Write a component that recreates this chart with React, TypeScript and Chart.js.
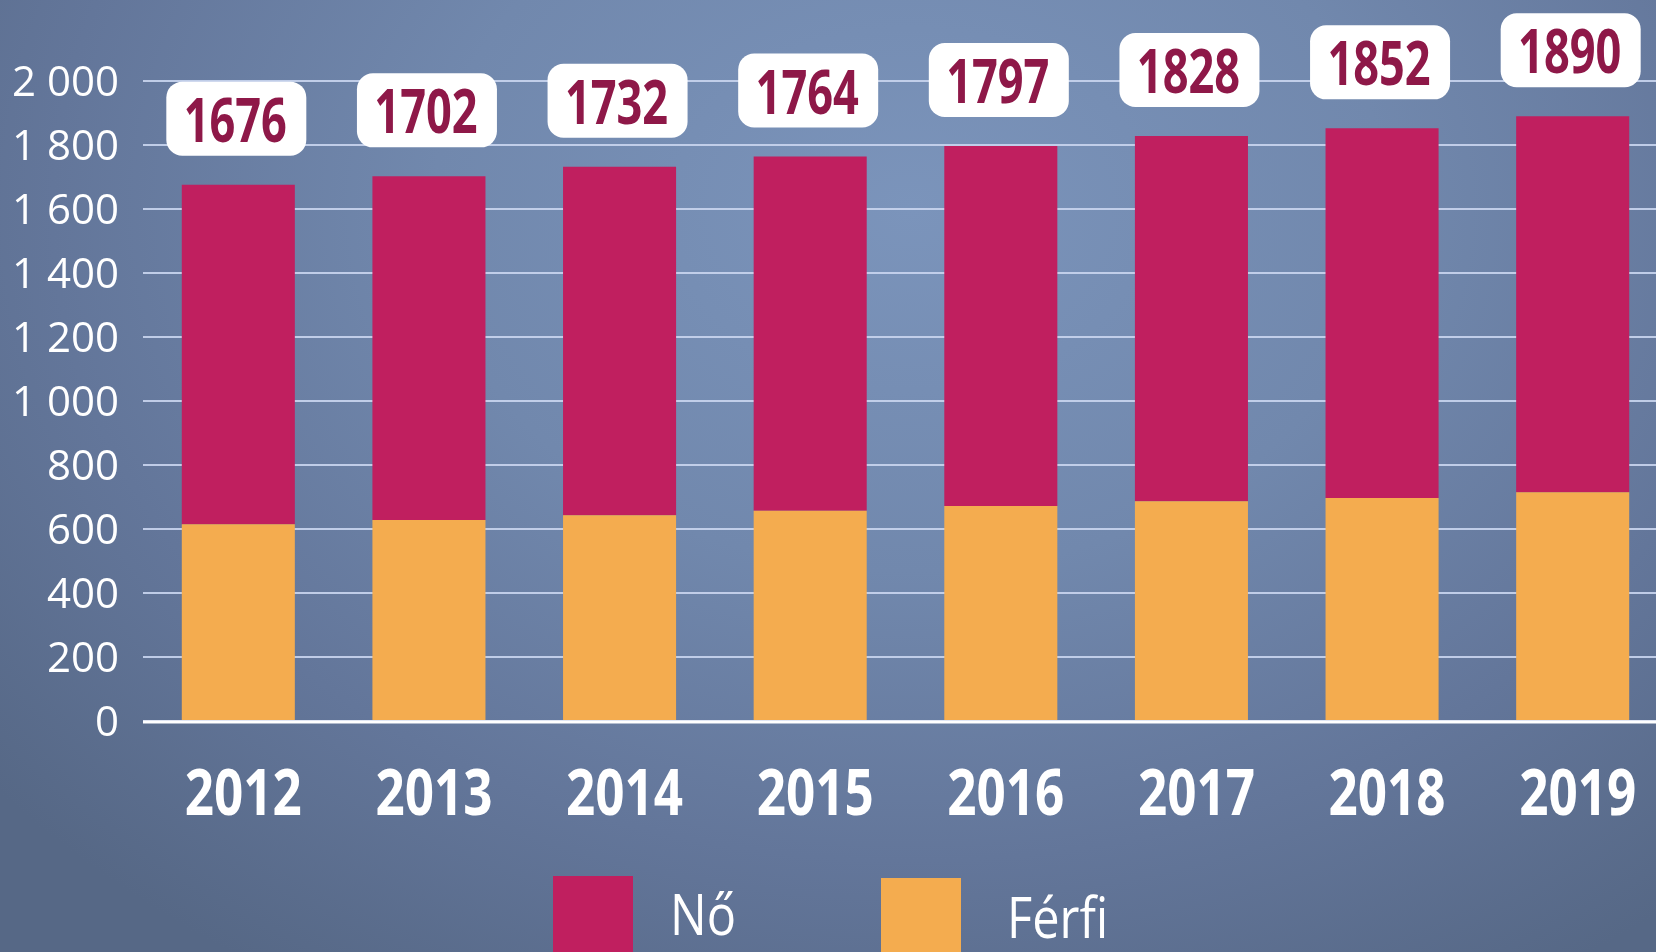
import React, { useEffect, useRef } from "react";
import { Chart, registerables } from "chart.js";

Chart.register(...registerables);

// ---- data ----
const years = ["2012", "2013", "2014", "2015", "2016", "2017", "2018", "2019"];
const totals = [1676, 1702, 1732, 1764, 1797, 1828, 1852, 1890];
const ferfiValues = [615, 628, 643, 657, 672, 687, 697, 715];
const noValues = [1061, 1074, 1089, 1107, 1125, 1141, 1155, 1175];
const yTickLabels = ["0", "200", "400", "600", "800", "1 000", "1 200", "1 400", "1 600", "1 800", "2 000"];
const seriesNames = ["Nő", "Férfi"];

// ---- styles ----
const NO_COLOR = "#c01f5f";
const FERFI_COLOR = "#f4ac4f";
const LABEL_TEXT = "#8e1848";
const FONT = "'Open Sans', 'DejaVu Sans', sans-serif";

function drawScaledText(
  ctx: CanvasRenderingContext2D,
  text: string,
  x: number,
  baseline: number,
  font: string,
  scaleX: number,
  color: string,
  align: CanvasTextAlign
) {
  ctx.save();
  ctx.font = font;
  ctx.fillStyle = color;
  ctx.textAlign = align;
  ctx.textBaseline = "alphabetic";
  ctx.translate(x, baseline);
  ctx.scale(scaleX, 1);
  ctx.fillText(text, 0, 0);
  ctx.restore();
}

const overlayPlugin = {
  id: "overlay",
  afterDatasetsDraw(chart: any) {
    const ctx: CanvasRenderingContext2D = chart.ctx;
    const { left, right } = chart.chartArea;
    const xs = chart.scales.x;
    const ys = chart.scales.y;
    const y0 = ys.getPixelForValue(0);

    // zero line
    ctx.save();
    ctx.strokeStyle = "#ffffff";
    ctx.lineWidth = 3;
    ctx.beginPath();
    ctx.moveTo(left, y0 + 1);
    ctx.lineTo(right, y0 + 1);
    ctx.stroke();
    ctx.restore();

    // total labels and year labels
    totals.forEach((t, i) => {
      const cx = xs.getPixelForValue(i);
      const top = ys.getPixelForValue(t);
      const bw = 140;
      const bh = 74;
      const by = top - 29 - bh;
      ctx.save();
      ctx.fillStyle = "#ffffff";
      ctx.beginPath();
      (ctx as any).roundRect(cx - 2 - bw / 2, by, bw, bh, 16);
      ctx.fill();
      ctx.restore();
      drawScaledText(ctx, String(t), cx - 3, by + bh / 2 + 23, `bold 61px ${FONT}`, 0.74, LABEL_TEXT, "center");
      drawScaledText(ctx, years[i], cx + 5, y0 + 94, `bold 64px ${FONT}`, 0.8, "#ffffff", "center");
    });

    // legend (Nő first, then Férfi)
    const items = [
      { label: chart.data.datasets[1].label, color: chart.data.datasets[1].backgroundColor, sx: 553, sy: 876, tx: 670, base: 935 },
      { label: chart.data.datasets[0].label, color: chart.data.datasets[0].backgroundColor, sx: 881, sy: 878, tx: 1007, base: 938 },
    ];
    items.forEach((it) => {
      ctx.save();
      ctx.fillStyle = it.color;
      ctx.fillRect(it.sx, it.sy, 80, 952 - it.sy + 4);
      ctx.restore();
      drawScaledText(ctx, it.label, it.tx, it.base, `56px ${FONT}`, 0.87, "#ffffff", "left");
    });
  },
};

export default function App() {
  const canvasRef = useRef<HTMLCanvasElement | null>(null);

  useEffect(() => {
    document.body.style.margin = "0";
    const canvas = canvasRef.current;
    if (!canvas) return;
    const chart = new Chart(canvas, {
      type: "bar",
      data: {
        labels: years,
        datasets: [
          {
            label: seriesNames[1],
            data: ferfiValues,
            backgroundColor: FERFI_COLOR,
            borderWidth: 0,
            barPercentage: 0.593,
            categoryPercentage: 1,
          },
          {
            label: seriesNames[0],
            data: noValues,
            backgroundColor: NO_COLOR,
            borderWidth: 0,
            barPercentage: 0.593,
            categoryPercentage: 1,
          },
        ],
      },
      options: {
        animation: false,
        responsive: true,
        maintainAspectRatio: false,
        layout: { padding: { top: 81, bottom: 231, left: 0, right: 0 } },
        plugins: {
          legend: { display: false },
          tooltip: { enabled: false },
        },
        scales: {
          x: {
            stacked: true,
            grid: { display: false },
            border: { display: false },
            ticks: { display: false },
            afterFit: (scale: any) => {
              scale.height = 0;
            },
          },
          y: {
            stacked: true,
            min: 0,
            max: 2000,
            border: { display: false },
            grid: {
              color: "rgba(200,212,238,0.92)",
              lineWidth: 2,
              drawTicks: false,
            },
            ticks: {
              stepSize: 200,
              padding: 24,
              labelOffset: 3,
              color: "#ffffff",
              font: { family: FONT, size: 42 },
              callback: (value: any) => yTickLabels[Math.round(Number(value) / 200)],
            },
            afterFit: (scale: any) => {
              scale.width = 143;
            },
          },
        },
      },
      plugins: [overlayPlugin],
    });
    return () => chart.destroy();
  }, []);

  return (
    <div
      style={{
        position: "fixed",
        left: 0,
        top: 0,
        width: 1656,
        height: 952,
        overflow: "hidden",
        background:
          "radial-gradient(ellipse 72% 95% at 55% 22%, #7b94bb 0%, #7188ad 40%, #63769a 72%, #566886 100%)",
      }}
    >
      <div style={{ position: "absolute", left: 0, top: 0, width: 1668, height: 952 }}>
        <canvas ref={canvasRef} />
      </div>
    </div>
  );
}
